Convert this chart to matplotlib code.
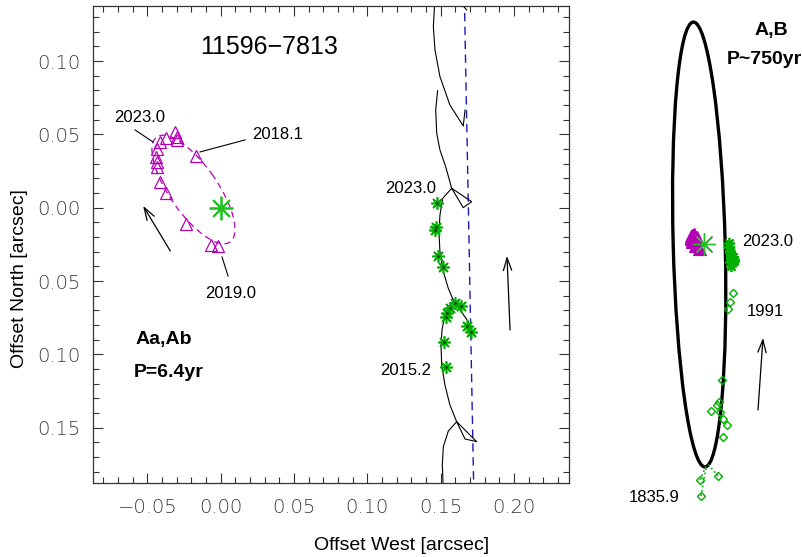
import matplotlib
matplotlib.use("Agg")
import matplotlib.pyplot as plt
from matplotlib.patches import Ellipse
from matplotlib.ticker import MultipleLocator
import numpy as np

# ---- inner pair Aa,Ab (arcsec) ----
tri_x = [-0.0312, -0.0300, -0.0298, -0.0373, -0.0414, -0.0436, -0.0441,
         -0.0434, -0.0436, -0.0414, -0.0376, -0.0168, -0.0237, -0.0068, -0.0020]
tri_y = [0.0518, 0.0482, 0.0462, 0.0475, 0.0450, 0.0397, 0.0346,
         0.0314, 0.0274, 0.0175, 0.0100, 0.0349, -0.0109, -0.0254, -0.0263]
inner_orbit = dict(x0=-0.0186, y0=0.0124, width=0.0873, height=0.0327, angle=124.8)

# ---- B measurements relative to Aa (arcsec) ----
star_x = [0.1473, 0.1466, 0.1461, 0.1484, 0.1514, 0.1597, 0.1636,
          0.1563, 0.1545, 0.1536, 0.1677, 0.1707, 0.1524, 0.1534]
star_y = [0.0030, -0.0134, -0.0152, -0.0329, -0.0406, -0.0652, -0.0670,
          -0.0686, -0.0720, -0.0743, -0.0807, -0.0845, -0.0914, -0.1084]

# wavy outer-orbit track with inner wobble
wave_x = [0.1518, 0.1511, 0.1518, 0.1552, 0.1609, 0.1745, 0.1666, 0.1609,
          0.1563, 0.1529, 0.1507, 0.1502, 0.1509, 0.1529, 0.1586, 0.1552,
          0.1518, 0.1495, 0.1488, 0.1495, 0.1514, 0.1575, 0.1711, 0.1654,
          0.1575, 0.1534, 0.1495, 0.1473, 0.1466, 0.1479]
wave_y = [-0.1923, -0.1754, -0.1630, -0.1523, -0.1459, -0.1595, -0.1577, -0.1459,
          -0.1345, -0.1209, -0.1072, -0.0936, -0.0834, -0.0725, -0.0630, -0.0550,
          -0.0436, -0.0300, -0.0164, -0.0050, 0.0064, 0.0132, 0.0041, 0.0000,
          0.0132, 0.0280, 0.0393, 0.0507, 0.0666, 0.0798]
spike_x = [0.1586, 0.1688, 0.1711]
spike_y = [-0.0630, -0.0777, -0.0834]
top_x = [0.1461, 0.1450, 0.1461, 0.1495, 0.1563, 0.1654, 0.1666]
top_y = [0.1430, 0.1234, 0.1075, 0.0893, 0.0700, 0.0557, 0.0666]
corner_x = [0.1625, 0.1677]
corner_y = [0.1409, 0.1348]
ab_line_x = [0.1660, 0.1726]
ab_line_y = [0.1500, -0.1950]

# ---- outer pair A,B ----
outer_orbit = dict(x0=-0.004, y0=-0.0025, width=2.225, height=0.26, angle=91.5)
diam_x = [0.165, 0.150, 0.140, 0.1085, 0.0965, 0.0835, 0.0535, 0.100,
          0.1135, 0.1335, 0.1165, 0.000, 0.090, 0.005]
diam_y = [-0.245, -0.290, -0.325, -0.680, -0.7885, -0.805, -0.8335, -0.8385,
          -0.8765, -0.905, -0.9635, -1.180, -1.160, -1.260]
oc_x = [[0.000, 0.030], [0.090, 0.040], [0.005, 0.030]]
oc_y = [[-1.180, -1.110], [-1.160, -1.100], [-1.260, -1.120]]

xticks = [-0.05, 0.00, 0.05, 0.10, 0.15, 0.20]
xticklabels = ["\u22120.05", "0.00", "0.05", "0.10", "0.15", "0.20"]
yticks = [-0.15, -0.10, -0.05, 0.00, 0.05, 0.10]
yticklabels = ["0.15", "0.10", "0.05", "0.00", "0.05", "0.10"]

MAGENTA = "#b400b4"
GREEN = "#00b000"
BLUE = "#1a1ab4"
FONT = "Liberation Sans"


def main():
    fig = plt.figure(figsize=(8.03, 5.57), dpi=100)
    ax = fig.add_axes([92.7 / 803, 1 - 483 / 557, 476.3 / 803, 477 / 557])

    ax.add_patch(Ellipse((inner_orbit["x0"], inner_orbit["y0"]),
                         inner_orbit["width"], inner_orbit["height"],
                         angle=inner_orbit["angle"], fill=False,
                         edgecolor=MAGENTA, lw=0.9, linestyle=(0, (5, 3.5))))
    ax.plot(tri_x, tri_y, "^", ms=8, mfc="none", mec=MAGENTA, mew=0.9)
    ax.plot([0], [0], marker=(8, 2, 0), ms=17, color="#22c022", mew=1.3)

    ax.plot(ab_line_x, ab_line_y, color=BLUE, lw=1.0, linestyle=(0, (6, 4)))
    for xs, ys in [(wave_x, wave_y), (spike_x, spike_y), (top_x, top_y),
                   (corner_x, corner_y)]:
        ax.plot(xs, ys, color="black", lw=0.8)
    ax.plot(star_x, star_y, marker=(8, 2, 0), ls="none", ms=9, color=GREEN, mew=1.2)
    ax.plot(star_x, star_y, ".", ms=2, color="#104010")

    # direction arrows
    arrow = dict(arrowstyle="->,head_length=0.9,head_width=0.3", lw=0.9,
                 color="black", shrinkA=0, shrinkB=0)
    ax.annotate("", xy=(-0.0529, 0.0012), xytext=(-0.0344, -0.0295), arrowprops=arrow)
    ax.annotate("", xy=(0.1952, -0.0329), xytext=(0.1973, -0.0834), arrowprops=arrow)

    # labels with pointers
    ax.plot([-0.0584, -0.0462], [0.0530, 0.0448], color="black", lw=0.8)
    ax.plot([0.0166, -0.0141], [0.0462, 0.0380], color="black", lw=0.8)
    ax.plot([0.0009, 0.0050], [-0.0336, -0.0466], color="black", lw=0.8)
    tkw = dict(fontsize=12, family=FONT, ha="center", va="center")
    ax.text(-0.0550, 0.0618, "2023.0", **tkw)
    ax.text(0.0391, 0.0496, "2018.1", **tkw)
    ax.text(0.0070, -0.0582, "2019.0", **tkw)
    ax.text(0.1297, 0.0134, "2023.0", **tkw)
    ax.text(0.1260, -0.1107, "2015.2", **tkw)
    ax.text(0.0329, 0.1096, "11596\u22127813", fontsize=18, family=FONT,
            ha="center", va="center")
    ax.text(-0.0584, -0.0902, "Aa,Ab", fontsize=14, family=FONT,
            fontweight="bold", ha="left", va="center")
    ax.text(-0.0591, -0.1127, "P=6.4yr", fontsize=14, family=FONT,
            fontweight="bold", ha="left", va="center")

    ax.set_xlim(-0.0873, 0.2375)
    ax.set_ylim(-0.1877, 0.1375)
    ax.set_xticks(xticks)
    ax.set_xticklabels(xticklabels)
    ax.set_yticks(yticks)
    ax.set_yticklabels(yticklabels)
    ax.xaxis.set_minor_locator(MultipleLocator(0.01))
    ax.yaxis.set_minor_locator(MultipleLocator(0.01))
    ax.tick_params(which="both", direction="in", top=True, right=True,
                   width=0.8, color="#333333")
    ax.tick_params(which="major", length=7)
    ax.tick_params(which="minor", length=4)
    ax.tick_params(axis="x", pad=11)
    ax.tick_params(axis="y", pad=9)
    for lab in ax.get_xticklabels() + ax.get_yticklabels():
        lab.set_family("DejaVu Sans")
        lab.set_fontsize(14)
        lab.set_fontweight("light")
        lab.set_color("#3a3a3a")
    for sp in ax.spines.values():
        sp.set_linewidth(0.9)
        sp.set_color("#333333")

    fig.text(0.5, 1 - 545 / 557, "Offset West [arcsec]", fontsize=14,
             family=FONT, ha="center", va="center")
    fig.text(20 / 803, 0.5, "Offset North [arcsec]", fontsize=14, family=FONT,
             rotation=90, ha="center", va="center")

    # ---- right panel: outer orbit A,B ----
    k = 0.005  # arcsec per pixel in this panel
    bx = fig.add_axes([600 / 803, 0, 203 / 803, 1])
    bx.set_xlim((600 - 700) * k, (803 - 700) * k)
    bx.set_ylim((244 - 557) * k, 244 * k)
    bx.axis("off")
    bx.add_patch(Ellipse((outer_orbit["x0"], outer_orbit["y0"]),
                         outer_orbit["width"], outer_orbit["height"],
                         angle=outer_orbit["angle"], fill=False,
                         edgecolor="black", lw=2.4))
    for xs, ys in zip(oc_x, oc_y):
        bx.plot(xs, ys, ":", color=GREEN, lw=1.2)
    bx.plot(diam_x, diam_y, "D", ms=4, mfc="none", mec=GREEN, mew=1.0)
    bx.plot(tri_x, tri_y, "^", ms=8, mfc=MAGENTA, mec=MAGENTA, mew=0.8)
    bx.plot([0.02], [0], marker=(8, 2, 0), ms=16, color="#22c022", mew=1.0)
    bx.plot(star_x, star_y, marker=(8, 2, 0), ls="none", ms=8, color=GREEN, mew=1.3)
    bx.annotate("", xy=(0.315, -0.47), xytext=(0.29, -0.83), arrowprops=arrow)
    rkw = dict(fontsize=12, family=FONT, va="center")
    bx.text(0.21, 0.01, "2023.0", ha="left", **rkw)
    bx.text(0.235, -0.335, "1991", ha="left", **rkw)
    bx.text(-0.23, -1.265, "1835.9", ha="center", **rkw)
    bx.text(0.355, 1.07, "A,B", fontsize=14, family=FONT, fontweight="bold",
            ha="center", va="center")
    bx.text(0.32, 0.92, "P~750yr", fontsize=14, family=FONT, fontweight="bold",
            ha="center", va="center")

    fig.savefig("out.png", dpi=100)


if __name__ == "__main__":
    main()
